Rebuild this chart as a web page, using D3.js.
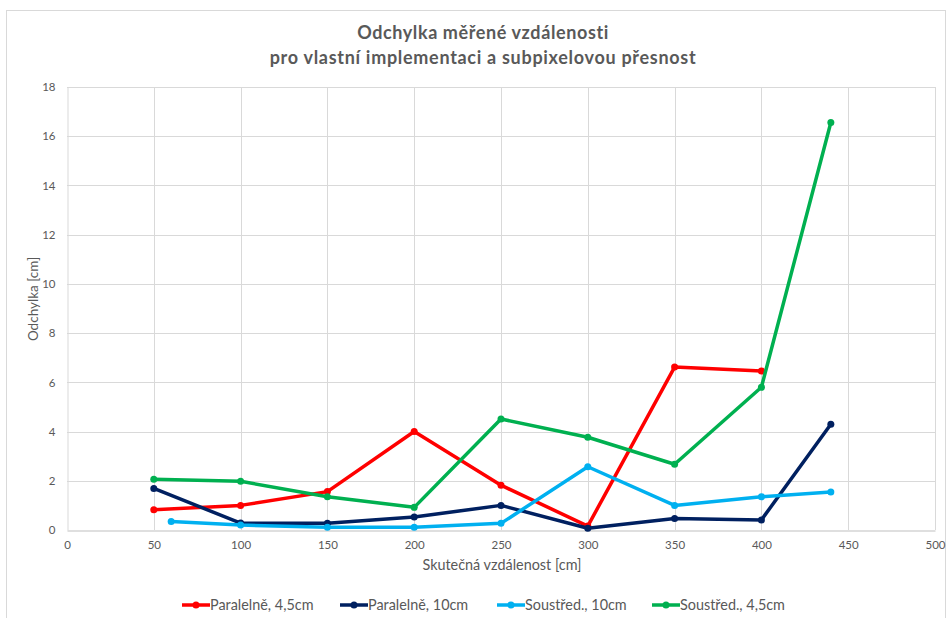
<!DOCTYPE html>
<html lang="cs">
	<head>
		<meta charset="utf-8">
		<title>Odchylka</title>
		<script src="https://d3js.org/d3.v7.min.js"></script>
		<style>
			body { margin: 0; background: #fff; }
			text { font-family: Lato, "Open Sans", sans-serif; fill: #595959; }
		</style>
	</head>
	<body>
		<script type="text/javascript">

			// data
			var seriesNames = ["Paralelně, 4,5cm", "Paralelně, 10cm", "Soustřed., 10cm", "Soustřed., 4,5cm"];
			var seriesColors = ["#ff0000", "#002060", "#00b0f0", "#00b050"];

			var xPar45 = [50, 100, 150, 200, 250, 300, 350, 400];
			var yPar45 = [0.82, 1.0, 1.56, 4.0, 1.82, 0.16, 6.62, 6.46];

			var xPar10 = [50, 100, 150, 200, 250, 300, 350, 400, 440];
			var yPar10 = [1.69, 0.28, 0.27, 0.53, 1.0, 0.07, 0.47, 0.41, 4.3];

			var xSou10 = [60, 100, 150, 200, 250, 300, 350, 400, 440];
			var ySou10 = [0.35, 0.2, 0.11, 0.11, 0.27, 2.57, 1.0, 1.35, 1.54];

			var xSou45 = [50, 100, 150, 200, 250, 300, 350, 400, 440];
			var ySou45 = [2.06, 1.98, 1.35, 0.92, 4.51, 3.77, 2.67, 5.8, 16.56];

			var xTicks = [0, 50, 100, 150, 200, 250, 300, 350, 400, 450, 500];
			var yTicks = [0, 2, 4, 6, 8, 10, 12, 14, 16, 18];

			var w = 946;
			var h = 618;

			var xScale = d3.scaleLinear().domain([0, 500]).range([67, 935]);
			var yScale = d3.scaleLinear().domain([0, 18]).range([530, 87]);

			var svg = d3.select("body").append("svg").attr("width", w).attr("height", h);

			// chart frame
			svg.append("rect")
				.attr("x", 6.5).attr("y", 10.5)
				.attr("width", 939).attr("height", 610)
				.attr("fill", "#fff").attr("stroke", "#d9d9d9");

			// gridlines
			svg.append("g")
				.selectAll("line.h")
				.data(yTicks.slice(1))
				.enter().append("line")
				.attr("x1", xScale(0)).attr("x2", xScale(500))
				.attr("y1", function(d) { return Math.round(yScale(d)) + 0.5; })
				.attr("y2", function(d) { return Math.round(yScale(d)) + 0.5; })
				.attr("stroke", "#d9d9d9");

			svg.append("g")
				.selectAll("line.v")
				.data(xTicks.slice(1))
				.enter().append("line")
				.attr("y1", yScale(0)).attr("y2", yScale(18))
				.attr("x1", function(d) { return Math.round(xScale(d)) + 0.5; })
				.attr("x2", function(d) { return Math.round(xScale(d)) + 0.5; })
				.attr("stroke", "#d9d9d9");

			// axes
			var xAxis = d3.axisBottom(xScale).tickValues(xTicks).tickSize(0).tickPadding(10);
			var yAxis = d3.axisLeft(yScale).tickValues(yTicks).tickSize(0).tickPadding(12);

			var gx = svg.append("g").attr("transform", "translate(0," + (yScale(0) + 0.5) + ")").call(xAxis);
			var gy = svg.append("g").attr("transform", "translate(" + (xScale(0) + 0.5) + ",0)").call(yAxis);

			gx.select(".domain").attr("stroke", "#bfbfbf");
			gy.select(".domain").attr("stroke", "#d9d9d9");
			gx.selectAll("text").style("font-size", "11.5px").attr("fill", "#595959");
			gy.selectAll("text").style("font-size", "11.5px").attr("fill", "#595959");
			svg.selectAll(".tick text").style("font-family", "Lato, sans-serif");

			// titles
			svg.append("text")
				.attr("x", 483).attr("y", 39)
				.attr("text-anchor", "middle")
				.style("font-size", "18px").style("font-weight", "bold")
				.style("letter-spacing", "0.6px")
				.text("Odchylka měřené vzdálenosti");
			svg.append("text")
				.attr("x", 483).attr("y", 64)
				.attr("text-anchor", "middle")
				.style("font-size", "18px").style("font-weight", "bold")
				.style("letter-spacing", "0.7px")
				.text("pro vlastní implementaci a subpixelovou přesnost");

			svg.append("text")
				.attr("x", 502).attr("y", 570)
				.attr("text-anchor", "middle")
				.style("font-size", "14.4px")
				.text("Skutečná vzdálenost [cm]");

			svg.append("text")
				.attr("transform", "translate(38," + 299 + ") rotate(-90)")
				.attr("text-anchor", "middle")
				.style("font-size", "13.5px")
				.text("Odchylka [cm]");

			// series
			var series = [
				{ name: seriesNames[0], color: seriesColors[0], xs: xPar45, ys: yPar45 },
				{ name: seriesNames[1], color: seriesColors[1], xs: xPar10, ys: yPar10 },
				{ name: seriesNames[2], color: seriesColors[2], xs: xSou10, ys: ySou10 },
				{ name: seriesNames[3], color: seriesColors[3], xs: xSou45, ys: ySou45 }
			];

			var line = d3.line()
				.x(function(d) { return xScale(d[0]); })
				.y(function(d) { return yScale(d[1]); });

			series.forEach(function(s) {
				var pts = d3.zip(s.xs, s.ys);
				svg.append("path")
					.datum(pts)
					.attr("d", line)
					.attr("fill", "none")
					.attr("stroke", s.color)
					.attr("stroke-width", 3.5)
					.attr("stroke-linejoin", "round");
				svg.append("g")
					.selectAll("circle")
					.data(pts)
					.enter().append("circle")
					.attr("cx", function(d) { return xScale(d[0]); })
					.attr("cy", function(d) { return yScale(d[1]); })
					.attr("r", 3.5)
					.attr("fill", s.color);
			});

			// legend
			var legendX = [182, 340, 497, 652];
			var legend = svg.append("g");
			series.forEach(function(s, i) {
				var g = legend.append("g").attr("transform", "translate(" + legendX[i] + ",605)");
				g.append("line").attr("x1", 0).attr("x2", 28)
					.attr("stroke", s.color).attr("stroke-width", 3.5);
				g.append("circle").attr("cx", 14).attr("r", 3.5).attr("fill", s.color);
				g.append("text").attr("x", 28).attr("y", 5)
					.style("font-size", "14.4px")
					.text(s.name);
			});

		</script>
	</body>
</html>
